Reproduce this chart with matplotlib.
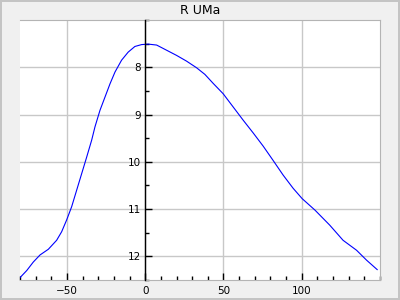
import matplotlib
matplotlib.use("Agg")
import matplotlib.pyplot as plt
from matplotlib.ticker import MultipleLocator

# phase (days from maximum) and visual magnitude
days = [-80, -75.7, -71.5, -67.2, -61.9, -56.6, -53.4, -50.2, -47.0, -43.8,
        -40.6, -37.4, -34.2, -32.1, -28.9, -25.7, -22.5, -19.3, -15.1, -10.9,
        -6.6, -2.3, 1.9, 7.3, 13.7, 20.1, 26.4, 32.8, 38.1, 43.4, 49.8, 56.2,
        62.6, 69.0, 75.4, 81.7, 88.1, 94.5, 100.3, 108.4, 117.9, 126.4, 135.0,
        141.4, 148.2]
mags = [12.45, 12.30, 12.12, 11.97, 11.85, 11.66, 11.48, 11.23, 10.95, 10.60,
        10.25, 9.90, 9.54, 9.26, 8.91, 8.63, 8.35, 8.10, 7.85, 7.68,
        7.56, 7.52, 7.51, 7.53, 7.64, 7.75, 7.87, 8.01, 8.15, 8.34, 8.56, 8.84,
        9.12, 9.39, 9.67, 9.97, 10.28, 10.56, 10.78, 11.02, 11.34, 11.66, 11.87,
        12.08, 12.28]
title = "R UMa"

fig = plt.figure(figsize=(4, 3), dpi=100, facecolor="#f0f0f0",
                 edgecolor="#c4c4c4", linewidth=1.5)
ax = fig.add_axes([20 / 400, 20 / 300, 360 / 400, 260 / 300])
ax.set_facecolor("white")

ax.plot(days, mags, color="#0000ff", linewidth=0.8)

ax.set_xlim(-80, 150)
ax.set_ylim(12.5, 7.0)
ax.set_xticks([-50, 0, 50, 100])
ax.set_yticks([8, 9, 10, 11, 12])
ax.xaxis.set_minor_locator(MultipleLocator(10))
ax.yaxis.set_minor_locator(MultipleLocator(0.5))
ax.grid(True, which="major", color="#c8c8c8", linewidth=1)

for s in ["top", "right", "bottom"]:
    ax.spines[s].set_color("#b4b4b4")
ax.spines["left"].set_position(("data", 0))
ax.spines["left"].set_color("black")
ax.spines["left"].set_linewidth(1)
ax.spines["left"].set_zorder(3)

ax.tick_params(axis="both", which="both", direction="in", labelsize=7.5,
               color="black", width=1)
ax.tick_params(which="major", length=5)
ax.tick_params(which="minor", length=3)
ax.tick_params(axis="x", pad=4)
ax.tick_params(axis="y", pad=3)

ax.set_title(title, fontsize=9, pad=4)

fig.savefig("out.png", dpi=100, facecolor=fig.get_facecolor(),
            edgecolor=fig.get_edgecolor())
